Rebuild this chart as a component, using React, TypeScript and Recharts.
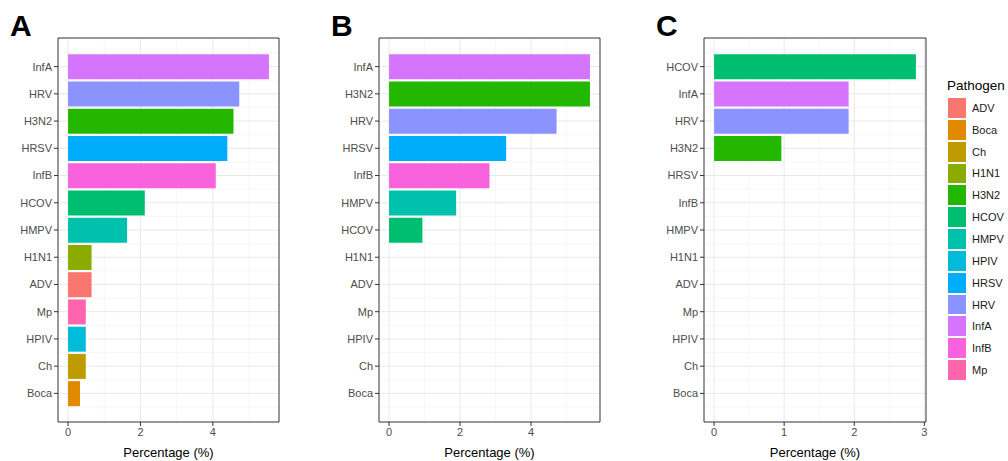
import React from 'react'
import { BarChart, Bar, XAxis, YAxis, CartesianGrid, Cell } from 'recharts'

// legend order (ggplot default hue palette, 13 levels)
const pathogens = ['ADV', 'Boca', 'Ch', 'H1N1', 'H3N2', 'HCOV', 'HMPV', 'HPIV', 'HRSV', 'HRV', 'InfA', 'InfB', 'Mp']
const pathogenColors = ['#F8766D', '#E18A00', '#BE9C00', '#8CAB00', '#24B700', '#00BE70', '#00C1AB', '#00BBDA', '#00ACFC', '#8B93FF', '#D575FE', '#F962DD', '#FF65AC']

// panel A
const namesA = ['InfA', 'HRV', 'H3N2', 'HRSV', 'InfB', 'HCOV', 'HMPV', 'H1N1', 'ADV', 'Mp', 'HPIV', 'Ch', 'Boca']
const valuesA = [5.55, 4.73, 4.57, 4.4, 4.08, 2.12, 1.63, 0.65, 0.65, 0.49, 0.49, 0.49, 0.33]
const ticksA = [0, 2, 4]
const minorA = [1, 3, 5]

// panel B
const namesB = ['InfA', 'H3N2', 'HRV', 'HRSV', 'InfB', 'HMPV', 'HCOV', 'H1N1', 'ADV', 'Mp', 'HPIV', 'Ch', 'Boca']
const valuesB = [5.66, 5.66, 4.72, 3.3, 2.83, 1.89, 0.94, 0, 0, 0, 0, 0, 0]
const ticksB = [0, 2, 4]
const minorB = [1, 3, 5]

// panel C
const namesC = ['HCOV', 'InfA', 'HRV', 'H3N2', 'HRSV', 'InfB', 'HMPV', 'H1N1', 'ADV', 'Mp', 'HPIV', 'Ch', 'Boca']
const valuesC = [2.88, 1.92, 1.92, 0.96, 0, 0, 0, 0, 0, 0, 0, 0, 0]
const ticksC = [0, 1, 2, 3]
const minorC = [0.5, 1.5, 2.5]

const FONT = '"Liberation Sans", Arial, sans-serif'
const colorOf = (name: string) => pathogenColors[pathogens.indexOf(name)]

const callScale = (s: any, v: any) => (typeof s === 'function' ? s(v) : s && s.map ? s.map(v) : NaN)
const bandOf = (s: any) => (s && typeof s.bandwidth === 'function' ? s.bandwidth() : 0)

const hMajor = (names: string[]) => ({ yAxis }: any) => {
  const s = yAxis?.scale
  if (!s) return []
  const b = bandOf(s)
  return names.map(n => callScale(s, n) + b / 2)
}
const hMinor = (names: string[]) => ({ yAxis }: any) => {
  const s = yAxis?.scale
  if (!s) return []
  const b = bandOf(s)
  return [...names.map(n => callScale(s, n)), callScale(s, names[names.length - 1]) + b]
}
const vLines = (vals: number[]) => ({ xAxis }: any) => {
  const s = xAxis?.scale
  if (!s) return []
  return vals.map(v => callScale(s, v))
}

interface PanelProps {
  left: number
  width: number
  rightMargin: number
  names: string[]
  values: number[]
  ticks: number[]
  minor: number[]
  letter: string
}

function Panel({ left, width, rightMargin, names, values, ticks, minor, letter }: PanelProps) {
  const data = names.map((name, i) => ({ name, value: values[i] }))
  const max = Math.max(...values)
  const domain = [-max * 0.05, max * 1.05]
  return (
    <div style={{ position: 'absolute', left, top: 0, width, height: 461 }}>
      <BarChart
        width={width}
        height={461}
        data={data}
        layout="vertical"
        margin={{ top: 37, right: rightMargin, bottom: 0, left: 0 }}
        barCategoryGap="5%"
      >
        <CartesianGrid
          stroke="#f2f2f2"
          strokeWidth={0.7}
          horizontalCoordinatesGenerator={hMinor(names)}
          verticalCoordinatesGenerator={vLines(minor)}
        />
        <CartesianGrid
          stroke="#e8e8e8"
          strokeWidth={1}
          horizontalCoordinatesGenerator={hMajor(names)}
          verticalCoordinatesGenerator={vLines(ticks)}
        />
        <XAxis
          type="number"
          dataKey="value"
          domain={domain}
          allowDataOverflow
          ticks={ticks}
          height={39}
          tickSize={4}
          tick={{ fill: '#4d4d4d', fontSize: 11, fontFamily: FONT }}
          tickLine={{ stroke: '#333' }}
          axisLine={{ stroke: '#333' }}
          label={{ value: 'Percentage (%)', position: 'insideBottom', offset: 4, fill: '#000', fontSize: 13, fontFamily: FONT }}
        />
        <XAxis xAxisId="top" orientation="top" type="number" domain={[0, 1]} height={1} tick={false} tickLine={false} axisLine={{ stroke: '#333' }} />
        <YAxis
          type="category"
          dataKey="name"
          width={58}
          interval={0}
          tickSize={4}
          padding={{ top: 15, bottom: 15 }}
          tick={{ fill: '#4d4d4d', fontSize: 11, fontFamily: FONT }}
          tickLine={{ stroke: '#333' }}
          axisLine={{ stroke: '#333' }}
        />
        <YAxis yAxisId="right" orientation="right" type="number" domain={[0, 1]} width={1} tick={false} tickLine={false} axisLine={{ stroke: '#333' }} />
        <Bar dataKey="value" isAnimationActive={false}>
          {data.map(d => (
            <Cell key={d.name} fill={colorOf(d.name)} />
          ))}
        </Bar>
      </BarChart>
      <div style={{ position: 'absolute', left: 10, top: 8, fontFamily: FONT, fontWeight: 'bold', fontSize: 30, lineHeight: '36px', color: '#000' }}>
        {letter}
      </div>
    </div>
  )
}

function PathogenLegend() {
  return (
    <div style={{ position: 'absolute', left: 947, top: 77, fontFamily: FONT }}>
      <div style={{ fontSize: 13.5, color: '#000', height: 20, lineHeight: '18px' }}>Pathogen</div>
      {pathogens.map((p, i) => (
        <div key={p} style={{ display: 'flex', alignItems: 'center', height: 21.85 }}>
          <div style={{ width: 20, height: 21.85, boxSizing: 'border-box', border: '1px solid #fff', background: pathogenColors[i] }} />
          <span style={{ fontSize: 11, color: '#1a1a1a', marginLeft: 5 }}>{p}</span>
        </div>
      ))}
    </div>
  )
}

export default function App() {
  return (
    <div style={{ position: 'fixed', left: 0, top: 0, width: 1008, height: 461, background: '#fff', overflow: 'hidden' }}>
      <Panel left={0} width={290} rightMargin={10} names={namesA} values={valuesA} ticks={ticksA} minor={minorA} letter="A" />
      <Panel left={321} width={290} rightMargin={10} names={namesB} values={valuesB} ticks={ticksB} minor={minorB} letter="B" />
      <Panel left={646} width={290} rightMargin={9} names={namesC} values={valuesC} ticks={ticksC} minor={minorC} letter="C" />
      <PathogenLegend />
    </div>
  )
}
